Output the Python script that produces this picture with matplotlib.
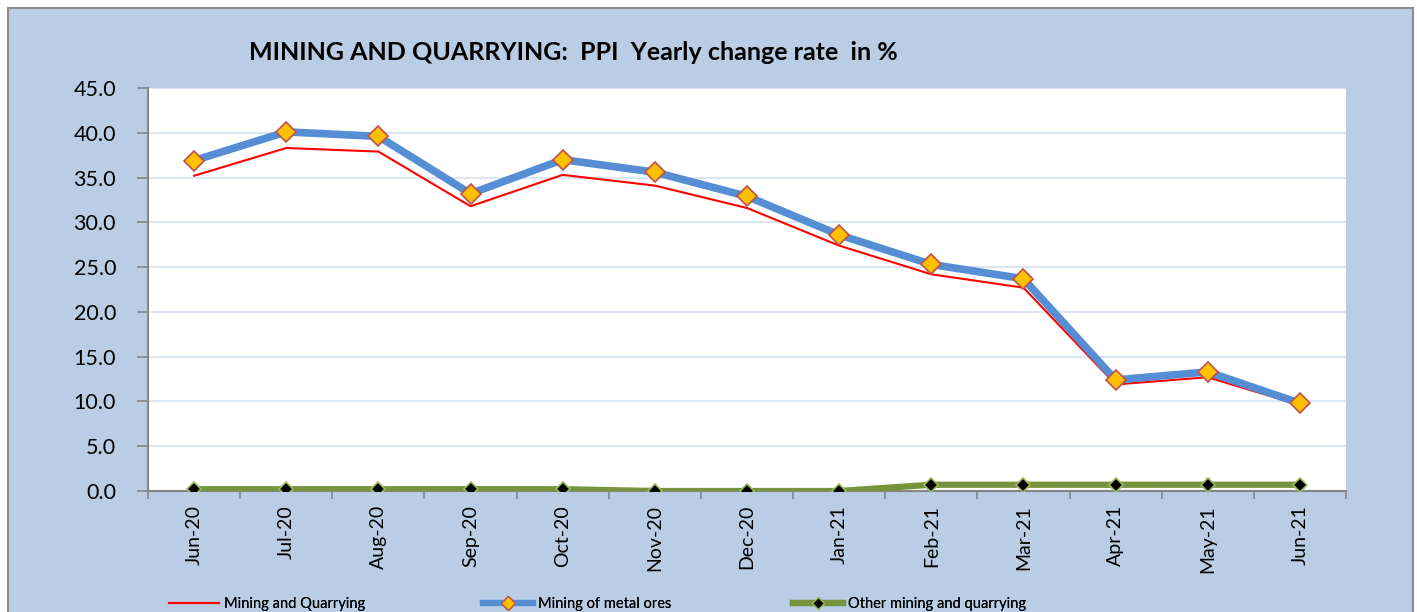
import numpy as np
import matplotlib.pyplot as plt
from matplotlib.patches import Rectangle
from matplotlib.lines import Line2D

plt.rcParams['font.family'] = ['Lato', 'DejaVu Sans']

# Data
months = ['Jun-20', 'Jul-20', 'Aug-20', 'Sep-20', 'Oct-20', 'Nov-20', 'Dec-20',
          'Jan-21', 'Feb-21', 'Mar-21', 'Apr-21', 'May-21', 'Jun-21']
mining_quarrying = [35.2, 38.3, 37.9, 31.8, 35.3, 34.1, 31.6, 27.4, 24.2, 22.7, 11.9, 12.7, 9.6]
metal_ores = [36.9, 40.1, 39.6, 33.2, 37.0, 35.6, 32.9, 28.6, 25.3, 23.7, 12.4, 13.3, 9.8]
other_mining = [0.2, 0.2, 0.2, 0.2, 0.2, 0.0, 0.0, 0.0, 0.7, 0.7, 0.7, 0.7, 0.7]
y_ticks = [0, 5, 10, 15, 20, 25, 30, 35, 40, 45]

W, H = 1417, 612
fig = plt.figure(figsize=(W / 100, H / 100), dpi=100)
fig.patch.set_facecolor('white')

# light blue chart area with grey border
fig.add_artist(Rectangle((8 / W, -0.02), (1413 - 8) / W, 1.02 - 8 / H,
                         transform=fig.transFigure, facecolor='#B9CDE5',
                         edgecolor='#8C8C8C', linewidth=1.5, zorder=0))

ax = fig.add_axes([148 / W, 1 - 491 / H, (1346 - 148) / W, (491 - 88) / H])
ax.set_facecolor('white')

x = np.arange(len(months))
ax.plot(x, mining_quarrying, color='#FF0000', linewidth=1.5, zorder=3)
ax.plot(x, metal_ores, color='#558ED5', linewidth=5.5, marker='D', markersize=10,
        markerfacecolor='#FFC000', markeredgecolor='#C0504D', markeredgewidth=1.2, zorder=4)
ax.plot(x, other_mining, color='#77933C', linewidth=4.5, marker='D', markersize=7,
        markerfacecolor='black', markeredgecolor='#9BBB59', markeredgewidth=1.2, zorder=5)

ax.set_xlim(-0.5, len(months) - 0.5)
ax.set_ylim(0, 45)
ax.set_yticks(y_ticks)
ax.set_yticklabels([f'{v:.1f}' for v in y_ticks])
ax.yaxis.grid(True, color='#DCE6F2', linewidth=1.5)
ax.set_axisbelow(True)

ax.set_xticks(x)
ax.set_xticklabels(months, rotation=90)
ax.set_xticks(np.arange(len(months) + 1) - 0.5, minor=True)
ax.tick_params(axis='x', which='major', length=0, pad=10, labelsize=14)
ax.tick_params(axis='x', which='minor', length=6, color='#868686', width=1.2)
ax.tick_params(axis='y', length=8, color='#868686', width=1.2, pad=15, labelsize=15.5)

for s in ['top', 'right']:
    ax.spines[s].set_visible(False)
for s in ['left', 'bottom']:
    ax.spines[s].set_color('#868686')
    ax.spines[s].set_linewidth(1.5)

fig.text(573 / W, 1 - 53 / H, 'MINING AND QUARRYING:  PPI  Yearly change rate  in %',
         ha='center', va='center', fontsize=18, fontweight='bold')

# legend entries placed along the bottom
handles = [
    Line2D([], [], color='#FF0000', linewidth=1.5),
    Line2D([], [], color='#558ED5', linewidth=4.5, marker='D', markersize=7,
           markerfacecolor='#FFC000', markeredgecolor='#C0504D'),
    Line2D([], [], color='#77933C', linewidth=4.5, marker='D', markersize=6,
           markerfacecolor='black', markeredgecolor='#9BBB59'),
]
labels = ['Mining and Quarrying', 'Mining of metal ores', 'Other mining and quarrying']
lx = [169, 483, 793]
for h, lab, xx in zip(handles, labels, lx):
    leg = fig.legend([h], [lab], loc='center left', bbox_to_anchor=(xx / W, 1 - 604 / H),
                     frameon=False, fontsize=10.5, handlelength=3.4, handletextpad=0.35,
                     borderpad=0, borderaxespad=0)
    fig.add_artist(leg)

fig.savefig('out.png', dpi=100, facecolor=fig.get_facecolor())
